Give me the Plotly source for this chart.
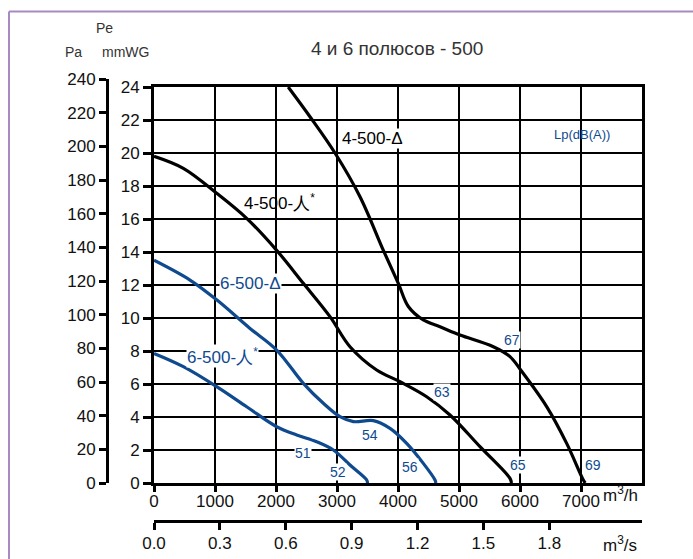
import plotly.graph_objects as go

# Fan performance curves: static pressure (mmWG) against airflow (m3/h)
curve_names = ["4-500-Δ", "4-500-人*", "6-500-Δ", "6-500-人*"]

q_4d = [2200, 2557, 2967, 3377, 3760, 4005, 4169, 4415, 4689, 5016, 5563, 5836, 6011, 6437, 6765, 7038, 7070]
p_4d = [24.0, 22.2, 20.0, 17.35, 14.1, 12.1, 10.7, 9.88, 9.47, 8.97, 8.26, 7.66, 6.85, 4.63, 2.4, 0.18, 0.0]

q_4y = [0, 481, 1027, 1519, 2011, 2448, 2885, 3213, 3650, 4033, 4470, 4852, 5344, 5836, 5860]
p_4y = [19.8, 19.07, 17.56, 16.04, 14.1, 12.1, 10.08, 8.26, 6.85, 6.14, 5.23, 4.12, 2.2, 0.28, 0.0]

q_6d = [0, 590, 1027, 1574, 2011, 2448, 2776, 3049, 3268, 3596, 3869, 4142, 4415, 4607, 4620]
p_6d = [13.5, 12.3, 11.1, 9.37, 8.06, 6.04, 4.83, 4.02, 3.72, 3.78, 3.31, 2.4, 1.19, 0.18, 0.0]

q_6y = [0, 481, 1027, 1519, 2011, 2339, 2667, 2940, 3213, 3487, 3500]
p_6y = [7.85, 7.05, 5.84, 4.62, 3.41, 2.91, 2.5, 2.0, 1.09, 0.18, 0.0]

# Sound level labels along the curves
lp_q = [5869, 4721, 3541, 2443, 3016, 4197, 5967, 7197]
lp_p = [8.67, 5.52, 2.91, 1.82, 0.67, 0.97, 1.09, 1.09]
lp_text = ["67", "63", "54", "51", "52", "56", "65", "69"]

# Curve name label positions
name_q = [3574, 2050, 1590, 1115]
name_p = [20.9, 17.05, 12.12, 7.70]

x_ticks_h = [0, 1000, 2000, 3000, 4000, 5000, 6000, 7000]
x_ticks_s = [0.0, 0.3, 0.6, 0.9, 1.2, 1.5, 1.8]
y_ticks_mm = list(range(0, 25, 2))
y_ticks_pa = list(range(0, 241, 20))

W, H = 693, 559
BLACK = "#000000"
BLUE = "#0f4a8f"
FONT = "Liberation Sans, Arial, sans-serif"


def px(x):
    return x / W


def py(y):
    return 1 - y / H


# plot box in pixels
L, R, T, B = 154, 642, 87, 483

fig = go.Figure()

series = [
    (q_4d, p_4d, BLACK),
    (q_4y, p_4y, BLACK),
    (q_6d, p_6d, BLUE),
    (q_6y, p_6y, BLUE),
]
for (q, p, c), name in zip(series, curve_names):
    fig.add_trace(go.Scatter(
        x=q, y=p, mode="lines", name=name,
        line=dict(color=c, width=3.2, shape="spline", smoothing=1.0),
        showlegend=False, hoverinfo="skip",
    ))

# empty traces that bind the secondary scales (m3/s and Pa)
fig.add_trace(go.Scatter(x=[None], y=[None], xaxis="x2", yaxis="y",
                         showlegend=False, hoverinfo="skip"))
fig.add_trace(go.Scatter(x=[None], y=[None], xaxis="x3", yaxis="y2",
                         showlegend=False, hoverinfo="skip"))

axis_common = dict(
    showline=True, linecolor=BLACK, linewidth=3,
    ticks="outside", tickcolor=BLACK, tickwidth=3,
    tickfont=dict(family=FONT, size=17, color="#111"),
    zeroline=False, automargin=False,
)

fig.update_layout(
    width=W, height=H,
    margin=dict(l=0, r=0, t=0, b=0),
    paper_bgcolor="white", plot_bgcolor="rgba(0,0,0,0)",
    showlegend=False,
    xaxis=dict(
        domain=[px(L), px(R)], range=[0, 8000], anchor="y",
        tickvals=x_ticks_h, ticktext=[str(v) for v in x_ticks_h],
        showgrid=True, gridcolor=BLACK, gridwidth=2,
        mirror=True, ticklen=6, ticklabelstandoff=-5, **axis_common,
    ),
    yaxis=dict(
        domain=[py(B), py(T)], range=[0, 24], anchor="x",
        tickvals=y_ticks_mm, ticktext=[str(v) for v in y_ticks_mm],
        showgrid=True, gridcolor=BLACK, gridwidth=2,
        mirror=True, ticklen=8, **axis_common,
    ),
    xaxis2=dict(
        overlaying="x", range=[0, 8000 / 3600], anchor="free",
        position=py(521), side="bottom",
        tickvals=x_ticks_s, ticktext=[f"{v:.1f}" for v in x_ticks_s],
        showgrid=False, ticklen=7, ticklabelstandoff=-1, **axis_common,
    ),
    xaxis3=dict(
        domain=[px(L), px(R)], range=[0, 8000], anchor="y2", visible=False,
        showgrid=False, zeroline=False,
    ),
    yaxis2=dict(
        domain=[py(B), py(79)], range=[0, 240], anchor="free",
        position=px(107), side="left",
        tickvals=y_ticks_pa, ticktext=[str(v) for v in y_ticks_pa],
        showgrid=False, ticklen=7, **axis_common,
    ),
)

ann = []


def paper_text(x, y, text, size, color="#333"):
    ann.append(dict(x=px(x), y=py(y), xref="paper", yref="paper", text=text,
                    showarrow=False, xanchor="center", yanchor="middle",
                    font=dict(family=FONT, size=size, color=color)))


paper_text(397, 48, "4 и 6 полюсов - 500", 19, "#333")
paper_text(104, 28, "Pe", 14)
paper_text(73, 52, "Pa", 14)
paper_text(125, 52, "mmWG", 14)
paper_text(620, 494, "m<sup>3</sup>/h", 17, "#111")
paper_text(620, 544, "m<sup>3</sup>/s", 17, "#111")

name_text = ["4-500-Δ", "4-500-人<sup>*</sup>", "6-500-Δ", "6-500-人<sup>*</sup>"]
name_col = [BLACK, BLACK, BLUE, BLUE]
name_bg = ["white", "rgba(0,0,0,0)", "white", "white"]
for q, p, t, c, bg in zip(name_q, name_p, name_text, name_col, name_bg):
    ann.append(dict(x=q, y=p, xref="x", yref="y", text=t, showarrow=False,
                    xanchor="center", yanchor="middle", bgcolor=bg,
                    borderpad=0, font=dict(family=FONT, size=17, color=c)))

for q, p, t in zip(lp_q, lp_p, lp_text):
    ann.append(dict(x=q, y=p, xref="x", yref="y", text=t, showarrow=False,
                    xanchor="center", yanchor="middle", bgcolor="white",
                    borderpad=0, font=dict(family=FONT, size=14, color=BLUE)))

ann.append(dict(x=7016, y=21.1, xref="x", yref="y", text="Lp(dB(A))", showarrow=False,
                xanchor="center", yanchor="middle",
                font=dict(family=FONT, size=13, color=BLUE)))

fig.update_layout(annotations=ann)

# frame lines along the top and left of the page
fig.add_shape(type="line", xref="paper", yref="paper", x0=px(9), x1=1, y0=py(11.5), y1=py(11.5),
              line=dict(color="#a889c2", width=2))
fig.add_shape(type="line", xref="paper", yref="paper", x0=px(9), x1=px(9), y0=0, y1=py(11.5),
              line=dict(color="#a889c2", width=2))

fig.write_html("out.html")
